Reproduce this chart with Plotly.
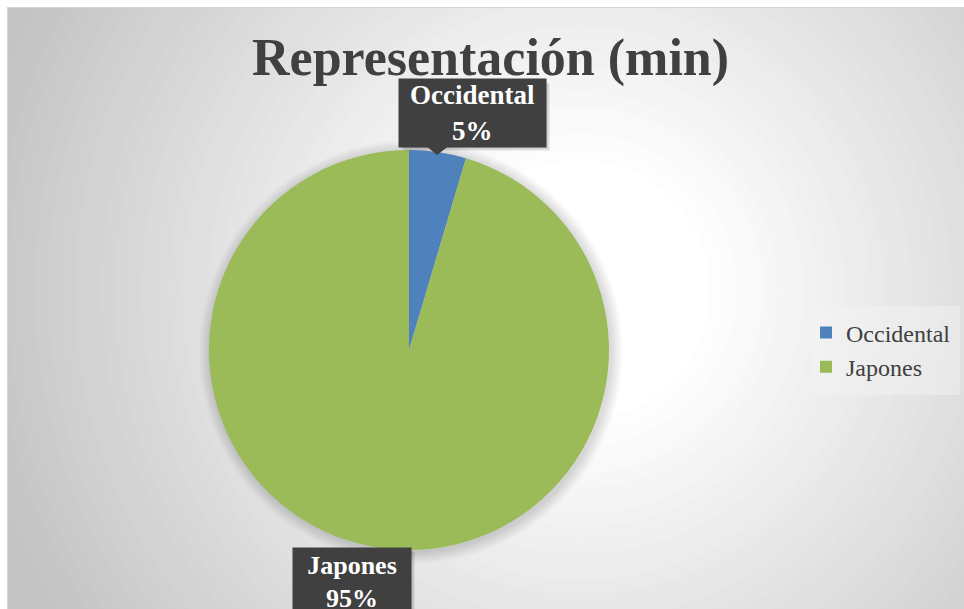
import plotly.graph_objects as go

# Data
labels = ["Occidental", "Japones"]
values = [4.6, 95.4]
colors = ["#4F81BD", "#9BBB59"]
title_text = "Representación (min)"

W, H = 964, 609
FONT = "Liberation Serif"

fig = go.Figure()

fig.add_trace(go.Pie(
    labels=labels, values=values, sort=False, direction="clockwise", rotation=0,
    marker=dict(colors=colors, line=dict(width=0)),
    textinfo="none", hoverinfo="label+percent",
    domain=dict(x=[209 / W, 609 / W], y=[1 - 550 / H, 1 - 150 / H]),
    showlegend=True,
))

shapes = []
# radial background gradient
cx, cy = 580, 290
steps = 45
for i in range(steps):
    r = 720 - i * (720 - 130) / (steps - 1)
    t = min(max((r - 130) / (620 - 130), 0), 1)
    g = int(round(255 - t * (255 - 196)))
    shapes.append(dict(type="circle", xref="paper", yref="paper",
                       x0=(cx - r) / W, x1=(cx + r) / W,
                       y0=1 - (cy + r) / H, y1=1 - (cy - r) / H,
                       fillcolor=f"rgb({g},{g},{g})", line=dict(width=0), layer="below"))
# white outer border strip (top/left)
shapes.append(dict(type="rect", xref="paper", yref="paper", x0=-0.1, x1=7 / W, y0=-0.1, y1=1.1,
                   fillcolor="white", line=dict(width=0), layer="below"))
shapes.append(dict(type="rect", xref="paper", yref="paper", x0=-0.1, x1=1.1, y0=1 - 7 / H, y1=1.1,
                   fillcolor="white", line=dict(width=0), layer="below"))
shapes.append(dict(type="line", xref="paper", yref="paper", x0=7 / W, x1=1.1, y0=1 - 7.5 / H, y1=1 - 7.5 / H,
                   line=dict(color="#d4d4d4", width=1), layer="below"))
shapes.append(dict(type="line", xref="paper", yref="paper", x0=7.5 / W, x1=7.5 / W, y0=-0.1, y1=1 - 7 / H,
                   line=dict(color="#d4d4d4", width=1), layer="below"))
# soft pie shadow
pcx, pcy, pr = 411, 352, 200
for k in range(12, 0, -1):
    r = pr + k
    shapes.append(dict(type="circle", xref="paper", yref="paper",
                       x0=(pcx - r) / W, x1=(pcx + r) / W,
                       y0=1 - (pcy + r) / H, y1=1 - (pcy - r) / H,
                       fillcolor="rgba(0,0,0,0.012)", line=dict(width=0), layer="below"))
# legend box
shapes.append(dict(type="rect", xref="paper", yref="paper", x0=812 / W, x1=960 / W,
                   y0=1 - 395 / H, y1=1 - 306 / H,
                   fillcolor="rgba(245,245,245,0.45)", line=dict(width=0), layer="below"))

# label box shadows and pointer
def box_shadow(x0, y0, x1, y1):
    for k in range(1, 5):
        shapes.append(dict(type="rect", xref="paper", yref="paper",
                           x0=(x0 + k) / W, x1=(x1 + k + 1) / W,
                           y0=1 - (y1 + k + 1) / H, y1=1 - (y0 + k) / H,
                           fillcolor="rgba(0,0,0,0.06)", line=dict(width=0), layer="above"))

box_shadow(400, 80, 545, 146)
box_shadow(294, 548, 410, 620)

shapes.append(dict(type="path", xref="paper", yref="paper",
                   path=f"M {425/W},{1-145/H} L {450/W},{1-145/H} L {437/W},{1-155/H} Z",
                   fillcolor="#404040", line=dict(width=0), layer="above"))

total = sum(values)
pct = [round(v / total * 100) for v in values]

annotations = [
    dict(text=f"<b>{title_text}</b>", x=490 / W, y=1 - 58 / H, xref="paper", yref="paper",
         showarrow=False, font=dict(family=FONT, size=52, color="#404040"), xanchor="center", yanchor="middle"),
    dict(text=f"<b>{labels[0]}<br>{pct[0]}%</b>", x=472.5 / W, y=1 - 113 / H, xref="paper", yref="paper",
         showarrow=False, font=dict(family=FONT, size=27, color="white"), bgcolor="#404040",
         width=145, height=66, xanchor="center", yanchor="middle", align="center"),
    dict(text=f"<b>{labels[1]}<br>{pct[1]}%</b>", x=352 / W, y=1 - 582 / H, xref="paper", yref="paper",
         showarrow=False, font=dict(family=FONT, size=26, color="white"), bgcolor="#404040",
         width=116, height=66, xanchor="center", yanchor="middle", align="center"),
]

fig.update_layout(
    width=W, height=H,
    margin=dict(l=0, r=0, t=0, b=0),
    paper_bgcolor="white", plot_bgcolor="white",
    shapes=shapes, annotations=annotations,
    legend=dict(x=806 / W, y=1 - 350 / H, xanchor="left", yanchor="middle",
                bgcolor="rgba(0,0,0,0)",
                font=dict(family=FONT, size=24, color="#404040"),
                itemwidth=30),
    font=dict(family=FONT),
)

fig.write_html("out.html", config={"displayModeBar": False},
               post_script="document.body.style.margin='0px';")
